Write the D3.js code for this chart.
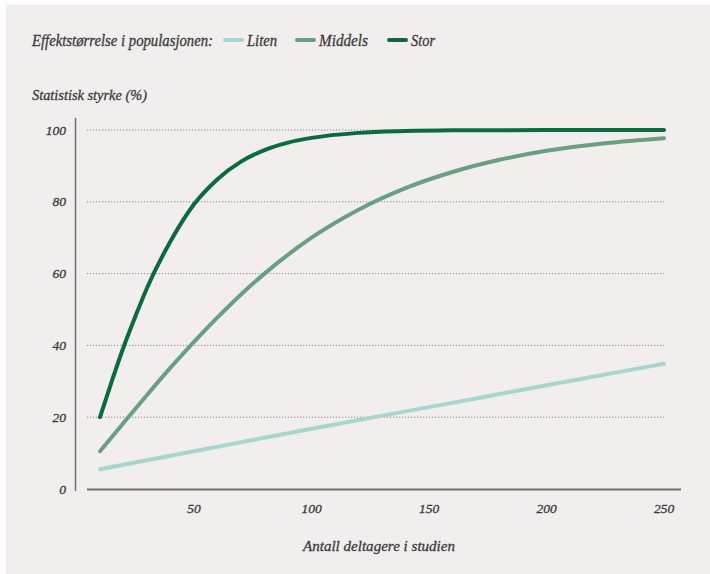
<!DOCTYPE html>
<html><head><meta charset="utf-8">
<script src="https://cdn.jsdelivr.net/npm/d3@7"></script>
<style>
html,body{margin:0;padding:0;background:#fff;}
svg{display:block;}
text{font-family:"Liberation Serif","DejaVu Serif",serif;font-style:italic;fill:#3a3a3a;stroke:#3a3a3a;stroke-width:0.3;}
</style></head><body>
<svg id="c" width="710" height="574"></svg>
<script>
const sizesLiten = [10, 50, 100, 150, 200, 250];
const valuesLiten = [5.5, 10.5, 16.8, 22.8, 28.9, 34.9];
const sizesMiddels = [10, 20, 30, 40, 50, 60, 70, 80, 100, 120, 140, 160, 180, 200, 225, 250];
const valuesMiddels = [10.5, 18.4, 26.2, 33.8, 41, 47.8, 54.2, 60, 70, 77.8, 83.8, 88.3, 91.7, 94.2, 96.3, 97.7];
const sizesStor = [10, 15, 20, 25, 30, 40, 50, 60, 70, 80, 90, 100, 120, 140, 160, 200, 250];
const valuesStor = [20, 30, 39.5, 48, 56, 69, 79.3, 86.3, 91.2, 94.4, 96.5, 97.8, 99.2, 99.7, 99.9, 100, 100];
const seriesNames = ["Liten", "Middels", "Stor"];
const seriesColors = ["#a9d6cc", "#6a9f82", "#0b6b3c"];
const yTicks = [0, 20, 40, 60, 80, 100];
const xTicks = [50, 100, 150, 200, 250];
const legendTitle = "Effektstørrelse i populasjonen:";
const yTitle = "Statistisk styrke (%)";
const xTitle = "Antall deltagere i studien";

const series = [
  {name: seriesNames[0], color: seriesColors[0], pts: sizesLiten.map((n,i)=>[n, valuesLiten[i]])},
  {name: seriesNames[1], color: seriesColors[1], pts: sizesMiddels.map((n,i)=>[n, valuesMiddels[i]])},
  {name: seriesNames[2], color: seriesColors[2], pts: sizesStor.map((n,i)=>[n, valuesStor[i]])}
];

const svg = d3.select("#c");
svg.append("rect").attr("x",6).attr("y",5).attr("width",704).attr("height",569).attr("fill","#f1eeed");

const x = d3.scaleLinear().domain([0,250]).range([76.5,664]);
const y = d3.scaleLinear().domain([0,100]).range([489,130]);

// gridlines
svg.append("g").selectAll("line").data(yTicks.filter(d=>d>0)).join("line")
  .attr("x1",87).attr("x2",665).attr("y1",d=>y(d)).attr("y2",d=>y(d))
  .attr("stroke","#8a8a8a").attr("stroke-width",1).attr("stroke-dasharray","1.2,1.8");

// y axis line
svg.append("line").attr("x1",75.5).attr("x2",75.5).attr("y1",118).attr("y2",491)
  .attr("stroke","#6f6f6f").attr("stroke-width",1.5);
// x axis line
svg.append("line").attr("x1",87).attr("x2",681).attr("y1",489.5).attr("y2",489.5)
  .attr("stroke","#6f6f6f").attr("stroke-width",2);

// y labels
svg.append("g").selectAll("text").data(yTicks).join("text")
  .attr("x",66).attr("y",d=>y(d)+4.5).attr("text-anchor","end")
  .attr("font-size",13.5).text(d=>d);
// x labels
svg.append("g").selectAll("text").data(xTicks).join("text")
  .attr("x",d=>x(d)).attr("y",513).attr("text-anchor","middle")
  .attr("font-size",13.5).text(d=>d);

svg.append("text").attr("x",303).attr("y",551).attr("font-size",15.5)
  .attr("textLength",152).attr("lengthAdjust","spacingAndGlyphs").text(xTitle);
svg.append("text").attr("x",32).attr("y",100).attr("font-size",15.5)
  .attr("textLength",115).attr("lengthAdjust","spacingAndGlyphs").text(yTitle);

// lines
const line = d3.line().x(d=>x(d[0])).y(d=>y(d[1])).curve(d3.curveMonotoneX);
svg.append("g").selectAll("path").data(series).join("path")
  .attr("d",d=>line(d.pts)).attr("fill","none").attr("stroke",d=>d.color)
  .attr("stroke-width",4).attr("stroke-linecap","round").attr("stroke-linejoin","round");

// legend
const lg = svg.append("g");
lg.append("text").attr("x",32).attr("y",46).attr("font-size",16.5)
  .attr("textLength",181).attr("lengthAdjust","spacingAndGlyphs").text(legendTitle);
const legX = [225, 297, 389];
const legW = [30, 49, 24];
series.forEach((s,i)=>{
  lg.append("line").attr("x1",legX[i]).attr("x2",legX[i]+17).attr("y1",40).attr("y2",40)
    .attr("stroke",s.color).attr("stroke-width",4).attr("stroke-linecap","round");
  lg.append("text").attr("x",legX[i]+22).attr("y",46).attr("font-size",16.5)
    .attr("textLength",legW[i]).attr("lengthAdjust","spacingAndGlyphs").text(s.name);
});
</script>
</body></html>
